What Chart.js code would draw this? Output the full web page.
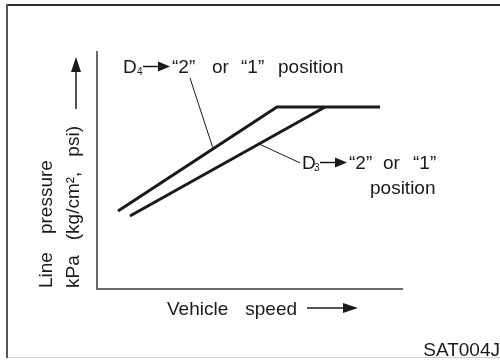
<!DOCTYPE html>
<html>
<head>
<meta charset="utf-8">
<script src="https://cdn.jsdelivr.net/npm/chart.js@4.4.1/dist/chart.umd.min.js"></script>
<style>
  html, body { margin: 0; padding: 0; background: #fff; }
  #wrap { position: relative; width: 500px; height: 360px; }
</style>
</head>
<body>
<div id="wrap"><canvas id="chart"></canvas></div>
<script>
  // shift pattern lines (speed 0-100, pressure 0-100, no units shown)
  const d4Speed = [6.9, 59.0, 92.8];
  const d4Pressure = [32.9, 76.8, 76.8];
  const d3Speed = [10.8, 74.8];
  const d3Pressure = [30.8, 76.8];

  // callout leaders
  const d4LeaderSpeed = [30.5, 38.0];
  const d4LeaderPressure = [89.0, 59.5];
  const d3LeaderSpeed = [53.1, 66.6];
  const d3LeaderPressure = [61.2, 53.2];

  const xTitle = ["Vehicle", "speed"];
  const yTitleTop = ["Line", "pressure"];
  const yTitleBottom = ["kPa", "(kg/cm\u00B2,", "psi)"];
  const figureCode = "SAT004J";

  const INK = "#1a1a1a";
  const FONT = '"Liberation Sans", Arial, sans-serif';

  function pts(xs, ys) {
    return xs.map(function (x, i) { return { x: x, y: ys[i] }; });
  }

  function lineSet(xs, ys, width) {
    return {
      data: pts(xs, ys),
      borderColor: INK,
      borderWidth: width,
      pointRadius: 0,
      tension: 0,
      fill: false,
      borderCapStyle: "butt",
      borderJoinStyle: "miter",
    };
  }

  // draw words one after another with a wide gap between them
  function words(ctx, list, x, y, gap) {
    let cx = x;
    list.forEach(function (w) {
      ctx.fillText(w, cx, y);
      cx += ctx.measureText(w).width + gap;
    });
  }

  function arrowRight(ctx, x0, x1, y, head) {
    ctx.beginPath();
    ctx.moveTo(x0, y);
    ctx.lineTo(x1 - head + 1, y);
    ctx.stroke();
    ctx.beginPath();
    ctx.moveTo(x1, y);
    ctx.lineTo(x1 - head, y - 5);
    ctx.lineTo(x1 - head, y + 5);
    ctx.closePath();
    ctx.fill();
  }

  // "Dn -> “2” or “1”" label piece
  function shiftLabel(ctx, x, base, sub, xs) {
    ctx.font = "19px " + FONT;
    ctx.fillText("D", x, base);
    ctx.font = "10px " + FONT;
    ctx.fillText(sub, xs.sub, base + 2);
    ctx.lineWidth = 1.5;
    arrowRight(ctx, xs.shaft, xs.tip, base - 6.5, 12);
    ctx.font = "19px " + FONT;
    ctx.fillText("\u201C2\u201D", xs.two, base);
    ctx.fillText("or", xs.or, base);
    ctx.fillText("\u201C1\u201D", xs.one, base);
  }

  const decorations = {
    id: "decorations",
    beforeDraw: function (chart) {
      const ctx = chart.ctx;
      ctx.save();
      // outer frame
      ctx.fillStyle = "#cfcfcf";
      ctx.fillRect(6, 357, 494, 1);
      ctx.fillStyle = "#2a2a2a";
      ctx.fillRect(6, 4, 494, 2);
      ctx.fillStyle = "#555";
      ctx.fillRect(6, 4, 2, 354);
      ctx.restore();
    },
    afterDraw: function (chart) {
      const ctx = chart.ctx;
      ctx.save();
      ctx.fillStyle = INK;
      ctx.strokeStyle = INK;
      ctx.textBaseline = "alphabetic";
      ctx.textAlign = "left";

      // x title with arrow
      ctx.font = "19px " + FONT;
      words(ctx, xTitle, 167, 315, 17);
      ctx.lineWidth = 1.5;
      arrowRight(ctx, 307, 358, 308, 15);

      // y titles, rotated
      ctx.save();
      ctx.translate(52, 288);
      ctx.rotate(-Math.PI / 2);
      words(ctx, yTitleTop, 0, 0, 18);
      ctx.restore();
      ctx.save();
      ctx.translate(79, 288);
      ctx.rotate(-Math.PI / 2);
      words(ctx, yTitleBottom, 0, 0, 15);
      ctx.restore();

      // y arrow
      ctx.lineWidth = 1.5;
      ctx.beginPath();
      ctx.moveTo(76, 109);
      ctx.lineTo(76, 70);
      ctx.stroke();
      ctx.beginPath();
      ctx.moveTo(76, 57);
      ctx.lineTo(71, 72);
      ctx.lineTo(81, 72);
      ctx.closePath();
      ctx.fill();

      // callout labels
      shiftLabel(ctx, 123, 73, "4",
        { sub: 137, shaft: 143, tip: 170, two: 172, or: 212, one: 241 });
      ctx.fillText("position", 278, 73);
      shiftLabel(ctx, 302, 169, "3",
        { sub: 314, shaft: 320, tip: 347, two: 349, or: 383, one: 413 });
      ctx.fillText("position", 370, 194);

      // figure code
      ctx.textAlign = "right";
      ctx.fillText(figureCode, 500, 356);
      ctx.restore();
    },
  };

  new Chart(document.getElementById("chart"), {
    type: "line",
    data: {
      datasets: [
        lineSet(d4Speed, d4Pressure, 3),
        lineSet(d3Speed, d3Pressure, 3),
        lineSet(d4LeaderSpeed, d4LeaderPressure, 1),
        lineSet(d3LeaderSpeed, d3LeaderPressure, 1),
      ],
    },
    options: {
      responsive: true,
      maintainAspectRatio: false,
      animation: false,
      layout: { padding: { left: 97, top: 52, right: 98, bottom: 71 } },
      plugins: { legend: { display: false }, tooltip: { enabled: false } },
      scales: {
        x: {
          type: "linear",
          min: 0,
          max: 100,
          ticks: { display: false },
          grid: { display: false, drawTicks: false },
          border: { display: true, color: "#6a6a6a", width: 2 },
        },
        y: {
          type: "linear",
          min: 0,
          max: 100,
          ticks: { display: false },
          grid: { display: false, drawTicks: false },
          border: { display: true, color: "#6a6a6a", width: 2 },
        },
      },
    },
    plugins: [decorations],
  });
</script>
</body>
</html>
